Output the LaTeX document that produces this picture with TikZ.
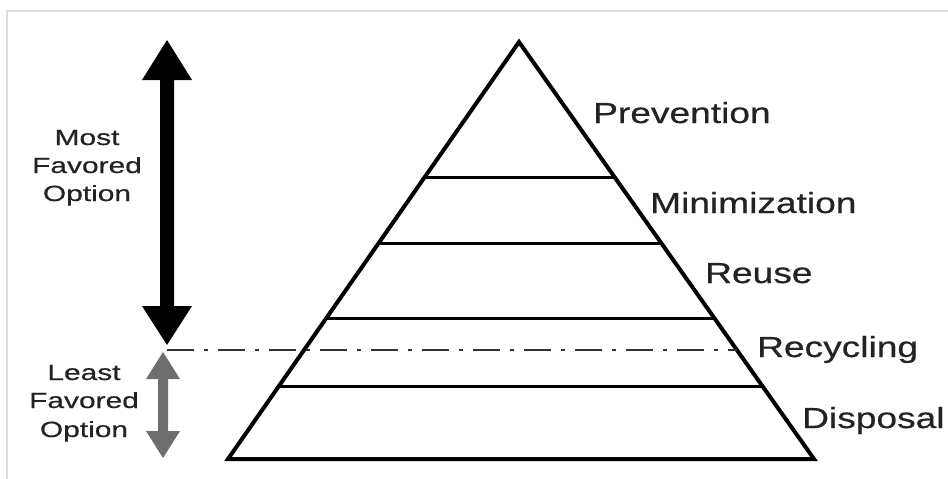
\documentclass[tikz,border=0pt]{standalone}
\usepackage{fontspec}
\setmainfont{Liberation Sans}
\newfontfamily\lblfont[FakeBold=0.5]{Liberation Sans}
\usetikzlibrary{calc}
\definecolor{framegray}{RGB}{222,222,222}
\definecolor{arrowgray}{RGB}{110,110,110}
\definecolor{dashgray}{RGB}{50,50,50}
\definecolor{textgray}{RGB}{35,35,35}
\begin{document}
\begin{tikzpicture}[x=1pt,y=-1pt,
  outline/.style={line width=4pt, line join=miter},
  tier/.style={line width=3pt},
  level/.style={font=\lblfont\fontsize{29}{32}\selectfont, text=textgray, anchor=base west, inner sep=0pt},
  side/.style={font=\lblfont\fontsize{22}{25}\selectfont, text=textgray, anchor=base, inner sep=0pt},
  divider/.style={dashgray, line width=2pt, dash pattern=on 27pt off 10pt on 4pt off 10pt},
  framebar/.style={framegray, line width=1.5pt}]
\useasboundingbox (0,0) rectangle (948,479);
% frame
\draw[framebar] (7,479) -- (7,11) -- (948,11);
% pyramid
\coordinate (A) at (519,42);
\coordinate (BL) at (228,459);
\coordinate (BR) at (814,459);
\coordinate (L1) at ($(A)!0.326!(BL)$);
\coordinate (R1) at ($(A)!0.326!(BR)$);
\coordinate (L2) at ($(A)!0.484!(BL)$);
\coordinate (R2) at ($(A)!0.484!(BR)$);
\coordinate (L3) at ($(A)!0.662!(BL)$);
\coordinate (R3) at ($(A)!0.662!(BR)$);
\coordinate (L4) at ($(A)!0.825!(BL)$);
\coordinate (R4) at ($(A)!0.825!(BR)$);
\coordinate (RD) at ($(A)!0.739!(BR)$);
\draw[tier] (L1) -- (R1);
\draw[tier] (L2) -- (R2);
\draw[tier] (L3) -- (R3);
\draw[tier] (L4) -- (R4);
\draw[outline] (A) -- (BL) -- (BR) -- cycle;
% black double arrow
\fill[black] (167,40) -- (192,80) -- (174,80) -- (174,306) -- (192,306) -- (167,345)
  -- (142,306) -- (160,306) -- (160,80) -- (142,80) -- cycle;
% gray double arrow
\fill[arrowgray] (163,352) -- (180,379) -- (168,379) -- (168,431) -- (180,431) -- (163,458)
  -- (146,431) -- (158,431) -- (158,379) -- (146,379) -- cycle;
% divider
\coordinate (D0) at (167,350);
\draw[divider] (D0) -- (RD |- D0);
% level labels
\node[level] (prev) at (593,123) {\scalebox{1.28}[1]{Prevention}};
\node[level] (mini) at (650,213) {\scalebox{1.28}[1]{Minimization}};
\node[level] (reuse) at (705,283) {\scalebox{1.28}[1]{Reuse}};
\node[level] (recy) at (757,357) {\scalebox{1.28}[1]{Recycling}};
\node[level] (disp) at (802,428) {\scalebox{1.28}[1]{Disposal}};
% side labels
\node[side] (most1) at (87,145) {\scalebox{1.36}[1]{Most}};
\node[side] (most2) at (87,173) {\scalebox{1.36}[1]{Favored}};
\node[side] (most3) at (87,201) {\scalebox{1.36}[1]{Option}};
\node[side] (least1) at (84,380) {\scalebox{1.36}[1]{Least}};
\node[side] (least2) at (84,408) {\scalebox{1.36}[1]{Favored}};
\node[side] (least3) at (84,437) {\scalebox{1.36}[1]{Option}};
\end{tikzpicture}
\end{document}
